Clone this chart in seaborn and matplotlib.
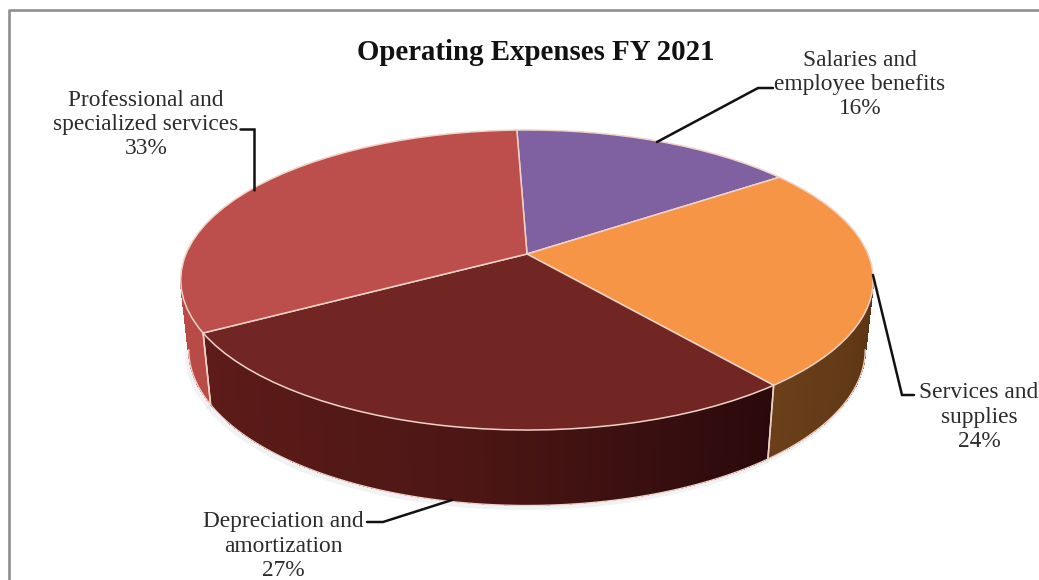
import numpy as np
import matplotlib
matplotlib.use("Agg")
import matplotlib.pyplot as plt
from matplotlib.transforms import Transform
from matplotlib.collections import PolyCollection
import seaborn as sns

categories = ["Salaries and\nemployee benefits", "Services and\nsupplies",
              "Depreciation and\namortization", "Professional and\nspecialized services"]
shares = [15.7, 24.1, 27.49, 32.71]
top_colors = ["#7F60A0", "#F59545", "#722623", "#BC4F4B"]
wall_left = ["#5F4A78", "#6A3F1A", "#5E1C19", "#B94B47"]
wall_mid = ["#5F4A78", "#633A17", "#4E1715", "#B94B47"]
wall_right = ["#5F4A78", "#5C3514", "#2A090C", "#B94B47"]
title = "Operating Expenses FY 2021"

CX, CY = 527, 254
Q, P, K = 341.0, 145.5, 0.1733
SHRINK = 0.977
EDGE = "#EFD3C8"


class Tilt(Transform):
    input_dims = output_dims = 2
    is_separable = False
    has_inverse = False

    def transform_non_affine(self, values):
        v = np.asarray(values, float)
        d = 1 + K * v[:, 1]
        return np.column_stack([CX + Q * v[:, 0] / d, CY - P * v[:, 1] / d])


def drop(xy):
    depth = 75 - (430 - xy[:, 1]) * 0.04
    return np.column_stack([CX + (xy[:, 0] - CX) * SHRINK, xy[:, 1] + depth])


sns.set_theme(style="white")
plt.rcParams["font.family"] = ["Liberation Serif", "DejaVu Serif"]

fig = plt.figure(figsize=(10.39, 5.80), dpi=100, facecolor="white")
ax = fig.add_axes([0, 0, 1, 1])

wedges, _ = ax.pie(shares, colors=top_colors, startangle=92, counterclock=False,
                   wedgeprops=dict(edgecolor=EDGE, linewidth=1.1, zorder=5))
tilt = Tilt()
for w in wedges:
    w.set_transform(tilt + ax.transData)
ax.set_aspect("auto")
ax.set_xlim(0, 1039)
ax.set_ylim(580, 0)
ax.axis("off")

# side wall built from the slices' own angles
VIS_LO, VIS_HI = -170.0, -10.0
for w, cl, cm, cr in zip(wedges, wall_left, wall_mid, wall_right):
    lo, hi = max(w.theta1, VIS_LO), min(w.theta2, VIS_HI)
    if lo >= hi:
        continue
    n = max(int(hi - lo), 2)
    ang = np.radians(np.linspace(lo, hi, n + 1))
    top = tilt.transform_non_affine(np.column_stack([np.cos(ang), np.sin(ang)]))
    bot = drop(top)
    cols = sns.blend_palette([cl, cm, cr], n)
    quads = [np.vstack([top[i], top[i + 1], bot[i + 1], bot[i]]) for i in range(n)]
    ax.add_collection(PolyCollection(quads, facecolors=cols, edgecolors=cols,
                                     linewidths=0.5, antialiaseds=False, zorder=3))
    ax.plot(bot[:, 0], bot[:, 1] + 0.5, color=EDGE, lw=1.0, zorder=4, solid_capstyle="round")
    ax.plot(bot[:, 0] - 2, bot[:, 1] + 3, color="#C9CED2", lw=3, alpha=0.25, zorder=2)
    for a in (lo, hi):
        if VIS_LO < a < VIS_HI:
            r = np.radians(a)
            t = tilt.transform_non_affine(np.array([[np.cos(r), np.sin(r)]]))
            b = drop(t)
            ax.plot([t[0, 0], b[0, 0]], [t[0, 1], b[0, 1]], color=EDGE, lw=1.1, zorder=4)

# frame
ax.plot([9, 9, 1039], [580, 10, 10], color="#8E8E8E", lw=1.9, zorder=1)

# leaders
lead = "#111111"
for xs, ys in [([240, 254, 254], [129, 129, 190]),
               ([773, 758, 657], [88, 88, 142]),
               ([873, 902, 914], [275, 395, 395]),
               ([367, 383, 452], [522, 522, 500])]:
    ax.plot(xs, ys, color=lead, lw=1.8, zorder=6, solid_joinstyle="miter")

# labels
text_c = "#2B2B2B"
anchors = [(860, 84.5), (979, 417), (283, 546), (146, 124.5)]
for name, val, (x, y) in zip(categories, shares, anchors):
    ax.text(x, y, f"{name}\n{val:.0f}%", ha="center", va="center", fontsize=16.8,
            color=text_c, linespacing=1.2, zorder=7)
ax.text(536, 52, title, ha="center", va="center", fontsize=20.8, fontweight="bold",
        color="#111111", zorder=7)

fig.savefig("out.png", dpi=100, facecolor="white")
